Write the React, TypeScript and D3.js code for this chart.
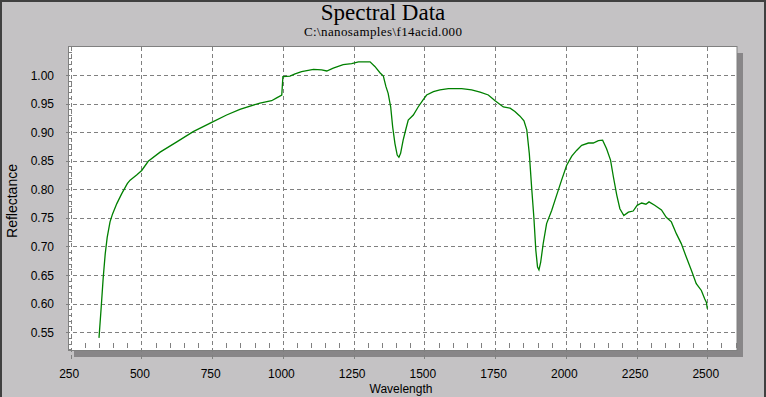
import * as d3 from "d3";
import { useEffect, useRef } from "react";

const wavelengths = [
  350, 357, 365, 372, 379, 389, 398, 413, 430, 450, 460, 483, 501, 524, 566, 625, 683, 752, 801, 848,
  919, 960, 978, 996, 1000, 1025, 1043, 1066, 1108, 1137, 1155, 1178, 1213, 1243, 1267, 1308, 1325,
  1343, 1355, 1364, 1372, 1381, 1388, 1396, 1404, 1410, 1416, 1425, 1435, 1443, 1461, 1478, 1496,
  1508, 1532, 1555, 1585, 1632, 1667, 1697, 1726, 1750, 1779, 1803, 1820, 1838, 1852, 1862, 1871,
  1879, 1887, 1894, 1900, 1905, 1911, 1920, 1932, 1950, 1967, 1985, 2003, 2021, 2038, 2056, 2080,
  2097, 2115, 2130, 2144, 2158, 2168, 2180, 2191, 2205, 2221, 2238, 2252, 2268, 2283, 2294, 2314,
  2338, 2355, 2373, 2391, 2408, 2426, 2444, 2461, 2479, 2491, 2497, 2500
];

const reflectance = [
  0.540, 0.588, 0.646, 0.687, 0.716, 0.743, 0.757, 0.775, 0.792, 0.810, 0.816, 0.825, 0.833, 0.849,
  0.865, 0.883, 0.901, 0.918, 0.930, 0.940, 0.951, 0.955, 0.960, 0.965, 0.997, 0.998, 1.002, 1.006,
  1.010, 1.009, 1.007, 1.012, 1.018, 1.020, 1.023, 1.023, 1.015, 1.004, 0.998, 0.980, 0.968, 0.944,
  0.909, 0.880, 0.860, 0.856, 0.863, 0.886, 0.906, 0.921, 0.930, 0.944, 0.957, 0.965, 0.971, 0.974,
  0.976, 0.976, 0.974, 0.970, 0.965, 0.955, 0.944, 0.942, 0.936, 0.928, 0.920, 0.904, 0.862, 0.804,
  0.751, 0.693, 0.664, 0.659, 0.672, 0.705, 0.740, 0.763, 0.789, 0.816, 0.842, 0.858, 0.868, 0.877,
  0.881, 0.881, 0.885, 0.886, 0.871, 0.851, 0.822, 0.790, 0.766, 0.754, 0.760, 0.762, 0.772, 0.776,
  0.774, 0.778, 0.772, 0.764, 0.751, 0.743, 0.722, 0.705, 0.681, 0.658, 0.635, 0.623, 0.608, 0.602,
  0.591
];

const xTicks = [250, 500, 750, 1000, 1250, 1500, 1750, 2000, 2250, 2500];
const yTicks = [0.55, 0.6, 0.65, 0.7, 0.75, 0.8, 0.85, 0.9, 0.95, 1.0];

const title = "Spectral Data";
const subtitle = "C:\\nanosamples\\f14acid.000";

const W = 766;
const H = 397;

const App = () => {
  const svgRef = useRef<SVGSVGElement | null>(null);

  useEffect(() => {
    const svg = d3.select(svgRef.current);
    svg.selectAll("*").remove();

    const plot = { left: 68.5, top: 46.5, right: 737, bottom: 350.5 };

    const x = d3.scaleLinear().domain([250, 2500]).range([70.7, 707.3]);
    const y = d3.scaleLinear().domain([0.55, 1.0]).range([332.2, 75]);

    // background + frame
    svg.append("rect").attr("width", W).attr("height", H).attr("fill", "#c4c2c4");
    svg.append("rect")
      .attr("x", 1).attr("y", 1).attr("width", 764).attr("height", H + 4)
      .attr("fill", "none").attr("stroke", "#404040").attr("stroke-width", 2);

    // titles
    svg.append("text")
      .attr("x", 383).attr("y", 20)
      .attr("text-anchor", "middle")
      .attr("font-family", "'Liberation Serif', 'DejaVu Serif', serif")
      .attr("font-size", 23)
      .text(title);
    svg.append("text")
      .attr("x", 383).attr("y", 36)
      .attr("text-anchor", "middle")
      .attr("font-family", "'Liberation Serif', 'DejaVu Serif', serif")
      .attr("font-size", 13)
      .attr("textLength", 158)
      .text(subtitle);

    // shadow
    svg.append("rect")
      .attr("x", 74).attr("y", 53)
      .attr("width", 743 - 74).attr("height", 357 - 53)
      .attr("fill", "#888688");

    // plot area
    svg.append("rect")
      .attr("x", plot.left).attr("y", plot.top)
      .attr("width", plot.right - plot.left).attr("height", plot.bottom - plot.top)
      .attr("fill", "#ffffff").attr("stroke", "#808080").attr("stroke-width", 1);

    const grid = svg.append("g")
      .attr("stroke", "#808080")
      .attr("stroke-width", 1)
      .attr("shape-rendering", "crispEdges");

    // horizontal grid lines + small stub left of the axis
    grid.selectAll("line.hy")
      .data(yTicks)
      .enter()
      .append("line")
      .attr("x1", 65.5).attr("x2", plot.right)
      .attr("y1", d => Math.round(y(d)) + 0.5)
      .attr("y2", d => Math.round(y(d)) + 0.5)
      .attr("stroke-dasharray", "4,3");

    // vertical grid lines, running below the plot
    grid.selectAll("line.vx")
      .data(xTicks)
      .enter()
      .append("line")
      .attr("y1", plot.top).attr("y2", 359)
      .attr("x1", d => Math.round(x(d)) + 0.5)
      .attr("x2", d => Math.round(x(d)) + 0.5)
      .attr("stroke-dasharray", "4,3");

    // minor ticks
    const yMinor = d3.range(52, 105).map(v => v / 100).filter(v => Math.round(v * 100) % 5 !== 0);
    grid.selectAll("line.my")
      .data(yMinor)
      .enter()
      .append("line")
      .attr("x1", plot.left).attr("x2", plot.left + 3)
      .attr("y1", d => Math.round(y(d)) + 0.5)
      .attr("y2", d => Math.round(y(d)) + 0.5);

    const xMinor = d3.range(250, 2650, 50).filter(v => v % 250 !== 0);
    grid.selectAll("line.mx")
      .data(xMinor)
      .enter()
      .append("line")
      .attr("y1", 343).attr("y2", 348)
      .attr("x1", d => Math.round(x(d)) + 0.5)
      .attr("x2", d => Math.round(x(d)) + 0.5);

    // tick labels
    const labelFont = "'Liberation Sans', Arial, sans-serif";
    svg.append("g")
      .selectAll("text")
      .data(yTicks)
      .enter()
      .append("text")
      .attr("x", 54)
      .attr("y", d => y(d) + 4.5)
      .attr("text-anchor", "end")
      .attr("font-family", labelFont)
      .attr("font-size", 12)
      .text(d => d3.format(".2f")(d));

    svg.append("g")
      .selectAll("text")
      .data(xTicks)
      .enter()
      .append("text")
      .attr("x", d => x(d) - 1.5)
      .attr("y", 378)
      .attr("text-anchor", "middle")
      .attr("font-family", labelFont)
      .attr("font-size", 12)
      .text(d => String(d));

    // axis titles
    svg.append("text")
      .attr("x", 401).attr("y", 393)
      .attr("text-anchor", "middle")
      .attr("font-family", labelFont)
      .attr("font-size", 12)
      .text("Wavelength");
    svg.append("text")
      .attr("transform", "translate(17,201) rotate(-90)")
      .attr("text-anchor", "middle")
      .attr("font-family", labelFont)
      .attr("font-size", 14)
      .text("Reflectance");

    // spectrum
    const points = wavelengths.map((w, i) => [w, reflectance[i]] as [number, number]);
    const line = d3.line<[number, number]>()
      .x(d => x(d[0]))
      .y(d => y(d[1]));
    svg.append("path")
      .datum(points)
      .attr("d", line)
      .attr("fill", "none")
      .attr("stroke", "#008000")
      .attr("stroke-width", 1.3);
  }, []);

  return (
    <svg
      ref={svgRef}
      width={W}
      height={H}
      style={{ position: "absolute", left: 0, top: 0, display: "block" }}
    ></svg>
  );
};

export default App;
